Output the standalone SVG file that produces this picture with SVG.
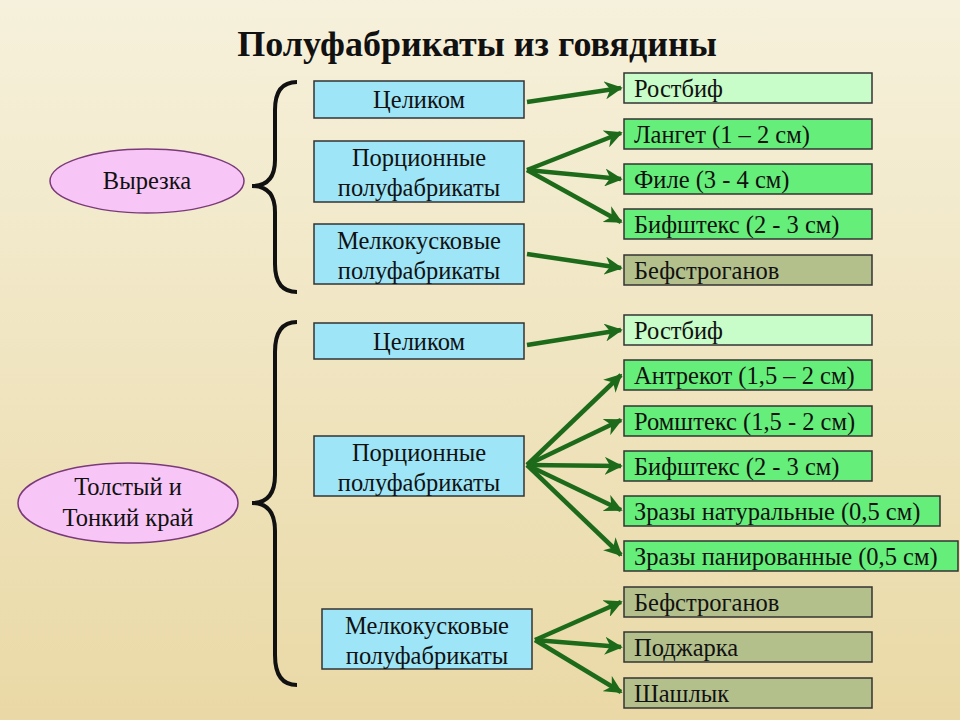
<svg xmlns="http://www.w3.org/2000/svg" width="960" height="720" viewBox="0 0 960 720">
<defs>
<linearGradient id="bg" x1="0" y1="0" x2="0" y2="1">
<stop offset="0" stop-color="#f6f1dc"/><stop offset="1" stop-color="#ead9a6"/>
</linearGradient>
<marker id="ah" viewBox="0 0 10 10" refX="9" refY="5" markerWidth="18" markerHeight="18" markerUnits="userSpaceOnUse" orient="auto">
<path d="M0,0 L10,5 L0,10 L3,5 z" fill="#1d6b1a"/>
</marker>
<style>
text{font-family:"Liberation Serif","Times New Roman",serif;font-size:24.5px;fill:#111}
.b{fill:#9ee6f7;stroke:#333;stroke-width:1.5}
.g{fill:#66ee7a;stroke:#333;stroke-width:1.5}
.lg{fill:#c8fcc8;stroke:#333;stroke-width:1.5}
.o{fill:#b4c08c;stroke:#333;stroke-width:1.5}
.e{fill:#f8c6f6;stroke:#7a3a7a;stroke-width:1.5}
.c{stroke:#1d6b1a;stroke-width:4.5;fill:none;marker-end:url(#ah)}
.br{stroke:#111;stroke-width:4;fill:none}
.m{text-anchor:middle}
</style>
</defs>
<rect width="960" height="720" fill="url(#bg)"/>
<text x="477" y="56" class="m" style="font-size:36px;font-weight:bold">Полуфабрикаты из говядины</text>
<path class="br" d="M297,82 Q275,82 275,110 L275,160 Q275,186 252,186 Q275,186 275,212 L275,264 Q275,292 297,292"/>
<path class="br" d="M297,322 Q275,322 275,352 L275,475 Q275,503 252,503 Q275,503 275,531 L275,655 Q275,685 297,685"/>
<g id="n-vyrezka"><ellipse class="e" cx="147" cy="181" rx="97" ry="32"/><text x="147" y="189" class="m">Вырезка</text></g>
<g id="n-tolst"><ellipse class="e" cx="128" cy="503" rx="110" ry="40"/><text x="128" y="495" class="m">Толстый и</text><text x="128" y="526" class="m">Тонкий край</text></g>
<g id="n-cel1"><rect class="b" x="314" y="81" width="210" height="37"/><text x="419" y="108" class="m">Целиком</text></g>
<g id="n-por1"><rect class="b" x="314" y="141" width="210" height="61"/><text x="419" y="166" class="m">Порционные</text><text x="419" y="196" class="m">полуфабрикаты</text></g>
<g id="n-mel1"><rect class="b" x="314" y="224" width="210" height="60"/><text x="419" y="249" class="m">Мелкокусковые</text><text x="419" y="279" class="m">полуфабрикаты</text></g>
<g id="n-cel2"><rect class="b" x="314" y="323" width="210" height="36"/><text x="419" y="350" class="m">Целиком</text></g>
<g id="n-por2"><rect class="b" x="314" y="436" width="210" height="60"/><text x="419" y="461" class="m">Порционные</text><text x="419" y="491" class="m">полуфабрикаты</text></g>
<g id="n-mel2"><rect class="b" x="322" y="609" width="210" height="60"/><text x="427" y="634" class="m">Мелкокусковые</text><text x="427" y="664" class="m">полуфабрикаты</text></g>
<g id="r1"><rect class="lg" x="624" y="73" width="248" height="30"/><text x="634" y="97">Ростбиф</text></g>
<g id="r2"><rect class="g" x="624" y="119" width="248" height="30"/><text x="634" y="143">Лангет (1 – 2 см)</text></g>
<g id="r3"><rect class="g" x="624" y="164" width="248" height="30"/><text x="634" y="188">Филе (3 - 4 см)</text></g>
<g id="r4"><rect class="g" x="624" y="209" width="248" height="30"/><text x="634" y="233">Бифштекс (2 - 3 см)</text></g>
<g id="r5"><rect class="o" x="624" y="255" width="248" height="30"/><text x="634" y="279">Бефстроганов</text></g>
<g id="r6"><rect class="lg" x="624" y="315" width="248" height="30"/><text x="634" y="339">Ростбиф</text></g>
<g id="r7"><rect class="g" x="624" y="360" width="248" height="30"/><text x="634" y="384">Антрекот (1,5 – 2 см)</text></g>
<g id="r8"><rect class="g" x="624" y="406" width="248" height="30"/><text x="634" y="430">Ромштекс (1,5 - 2 см)</text></g>
<g id="r9"><rect class="g" x="624" y="451" width="248" height="30"/><text x="634" y="475">Бифштекс (2 - 3 см)</text></g>
<g id="r10"><rect class="g" x="624" y="496" width="316" height="30"/><text x="634" y="520">Зразы натуральные (0,5 см)</text></g>
<g id="r11"><rect class="g" x="624" y="541" width="334" height="30"/><text x="634" y="565">Зразы панированные (0,5 см)</text></g>
<g id="r12"><rect class="o" x="624" y="587" width="248" height="30"/><text x="634" y="611">Бефстроганов</text></g>
<g id="r13"><rect class="o" x="624" y="632" width="248" height="30"/><text x="634" y="656">Поджарка</text></g>
<g id="r14"><rect class="o" x="624" y="678" width="248" height="30"/><text x="634" y="702">Шашлык</text></g>
<g id="connectors">
<line class="c" x1="527" y1="102" x2="621" y2="88"/>
<line class="c" x1="527" y1="170" x2="621" y2="133"/>
<line class="c" x1="527" y1="170" x2="621" y2="179"/>
<line class="c" x1="527" y1="170" x2="621" y2="222"/>
<line class="c" x1="527" y1="254" x2="621" y2="268"/>
<line class="c" x1="527" y1="345" x2="621" y2="330"/>
<line class="c" x1="527" y1="465" x2="621" y2="375"/>
<line class="c" x1="527" y1="465" x2="621" y2="420"/>
<line class="c" x1="527" y1="465" x2="621" y2="466"/>
<line class="c" x1="527" y1="465" x2="621" y2="510"/>
<line class="c" x1="527" y1="465" x2="621" y2="555"/>
<line class="c" x1="535" y1="640" x2="621" y2="602"/>
<line class="c" x1="535" y1="640" x2="621" y2="647"/>
<line class="c" x1="535" y1="640" x2="621" y2="692"/>
</g>
</svg>
